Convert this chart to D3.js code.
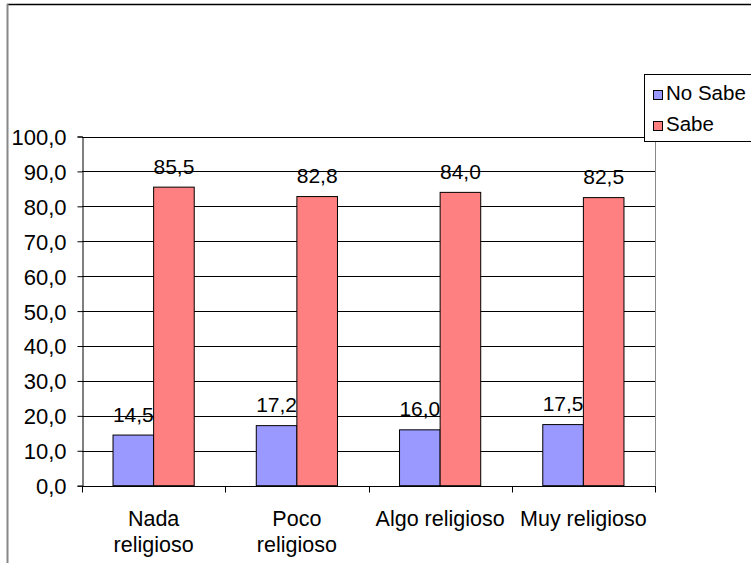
<!DOCTYPE html>
<html>
<head>
<meta charset="utf-8">
<script src="https://cdn.jsdelivr.net/npm/d3@7"></script>
<style>
  html, body { margin: 0; padding: 0; background: #fff; }
  svg { display: block; }
  text { font-family: "Liberation Sans", Arial, sans-serif; fill: #000; }
</style>
</head>
<body>
<svg id="chart" width="751" height="563"></svg>
<script>
// Chart data
const categories = [["Nada", "religioso"], ["Poco", "religioso"], ["Algo religioso"], ["Muy religioso"]];
const seriesNames = ["No Sabe", "Sabe"];
const noSabe = [14.5, 17.2, 16.0, 17.5];
const sabe = [85.5, 82.8, 84.0, 82.5];
const yTicks = [0, 10, 20, 30, 40, 50, 60, 70, 80, 90, 100];
const colors = ["#9999FF", "#FF8080"];

const seriesValues = [noSabe, sabe];
const fmt = v => v.toFixed(1).replace(".", ",");

const svg = d3.select("#chart");

// Outer frame (top and left edges visible)
svg.append("line").attr("x1", 7).attr("x2", 751).attr("y1", 4.5).attr("y2", 4.5)
  .attr("stroke", "#000").attr("stroke-width", 1.5);
svg.append("line").attr("x1", 7.5).attr("x2", 7.5).attr("y1", 4).attr("y2", 563)
  .attr("stroke", "#888").attr("stroke-width", 2);

const plot = { left: 82, right: 655, top: 136.5, bottom: 485.7 };

const x = d3.scaleBand().domain(d3.range(categories.length))
  .range([plot.left, plot.right]).paddingInner(0).paddingOuter(0);
const y = d3.scaleLinear().domain([0, 100]).range([plot.bottom, plot.top]);

const barW = 40.6;
const xs = d3.scaleBand().domain(d3.range(seriesNames.length))
  .range([-barW, barW]).padding(0);

// Horizontal gridlines
svg.append("g").selectAll("line").data(yTicks.filter(t => t > 0)).join("line")
  .attr("x1", plot.left).attr("x2", plot.right)
  .attr("y1", d => Math.round(y(d)) + 0.5).attr("y2", d => Math.round(y(d)) + 0.5)
  .attr("stroke", "#000").attr("stroke-width", 1);

// Right border of plot area
svg.append("line").attr("x1", plot.right + 0.5).attr("x2", plot.right + 0.5)
  .attr("y1", Math.round(y(100)) + 0.5).attr("y2", plot.bottom)
  .attr("stroke", "#888").attr("stroke-width", 1);

// Y axis
const yAxis = svg.append("g").attr("transform", `translate(${plot.left + 0.5},0)`)
  .call(d3.axisLeft(y).tickValues(yTicks).tickSize(5).tickPadding(11).tickFormat(fmt));
yAxis.select(".domain").attr("stroke", "#000");
yAxis.selectAll(".tick line").attr("stroke", "#000");
yAxis.selectAll(".tick text").attr("font-size", 22).attr("font-family", "Liberation Sans, Arial, sans-serif")
  .attr("fill", "#000").attr("dy", "0.36em");

// Bars
const groups = svg.append("g").selectAll("g").data(categories).join("g")
  .attr("transform", (d, i) => `translate(${x(i) + x.bandwidth() / 2},0)`);

groups.each(function (d, i) {
  const g = d3.select(this);
  seriesValues.forEach((vals, s) => {
    const v = vals[i];
    g.append("rect")
      .attr("x", xs(s)).attr("width", xs.bandwidth())
      .attr("y", y(v)).attr("height", y(0) - y(v))
      .attr("fill", colors[s]).attr("stroke", "#000").attr("stroke-width", 1);
    g.append("text")
      .attr("x", xs(s) + xs.bandwidth() / 2).attr("y", y(v) - 13.5)
      .attr("text-anchor", "middle").attr("font-size", 21)
      .text(fmt(v));
  });
});

// X axis line and category boundary ticks
const xAxisY = Math.round(plot.bottom) + 0.5;
svg.append("line").attr("x1", plot.left).attr("x2", plot.right + 1)
  .attr("y1", xAxisY).attr("y2", xAxisY).attr("stroke", "#000");
svg.append("g").selectAll("line").data(d3.range(categories.length + 1)).join("line")
  .attr("x1", i => Math.round(plot.left + i * x.bandwidth()) + 0.5)
  .attr("x2", i => Math.round(plot.left + i * x.bandwidth()) + 0.5)
  .attr("y1", xAxisY).attr("y2", xAxisY + 6).attr("stroke", "#000");

// Category labels
svg.append("g").selectAll("text").data(categories).join("text")
  .attr("text-anchor", "middle").attr("font-size", 21.5)
  .each(function (lines, i) {
    const t = d3.select(this);
    lines.forEach((ln, k) => {
      t.append("tspan").attr("x", x(i) + x.bandwidth() / 2)
        .attr("y", 526 + k * 25.5).text(ln);
    });
  });

// Legend
const legend = svg.append("g");
legend.append("rect").attr("x", 644.5).attr("y", 74.5).attr("width", 120).attr("height", 67)
  .attr("fill", "#fff").attr("stroke", "#000").attr("stroke-width", 1);
seriesNames.forEach((name, s) => {
  const baseY = 100 + s * 31;
  legend.append("rect").attr("x", 653.5).attr("y", baseY - 9.5).attr("width", 9).attr("height", 9)
    .attr("fill", colors[s]).attr("stroke", "#000").attr("stroke-width", 1);
  legend.append("text").attr("x", 666).attr("y", baseY).attr("font-size", 20.5).text(name);
});
</script>
</body>
</html>
